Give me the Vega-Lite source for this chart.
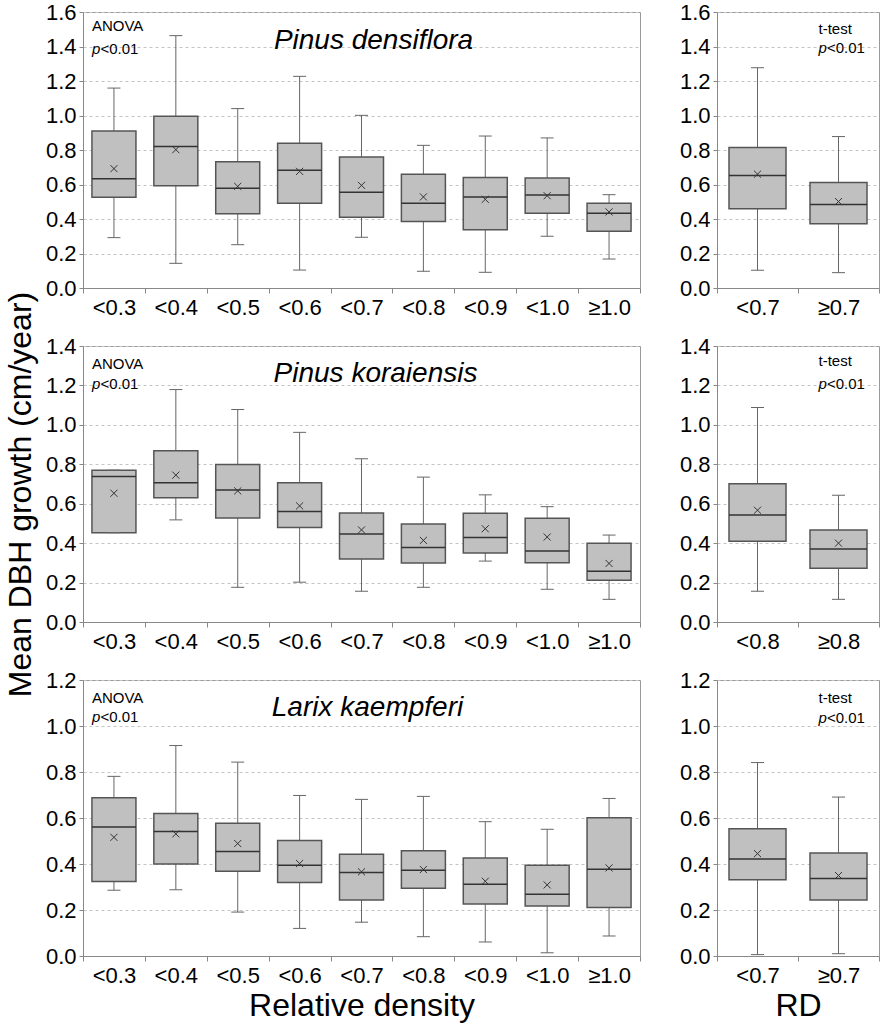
{
  "$schema": "https://vega.github.io/schema/vega-lite/v6.json",
  "background": "white",
  "padding": {"left": 3, "top": 0, "right": 2, "bottom": 2},
  "bounds": "flush",
  "datasets": {
    "pd": [
      {"g": "<0.3", "lo": 0.292, "q1": 0.526, "med": 0.634, "q3": 0.910, "hi": 1.159, "mean": 0.692},
      {"g": "<0.4", "lo": 0.143, "q1": 0.593, "med": 0.821, "q3": 0.995, "hi": 1.463, "mean": 0.802},
      {"g": "<0.5", "lo": 0.251, "q1": 0.431, "med": 0.578, "q3": 0.732, "hi": 1.040, "mean": 0.589},
      {"g": "<0.6", "lo": 0.104, "q1": 0.491, "med": 0.682, "q3": 0.839, "hi": 1.227, "mean": 0.676},
      {"g": "<0.7", "lo": 0.294, "q1": 0.410, "med": 0.555, "q3": 0.759, "hi": 1.001, "mean": 0.595},
      {"g": "<0.8", "lo": 0.097, "q1": 0.385, "med": 0.491, "q3": 0.659, "hi": 0.827, "mean": 0.528},
      {"g": "<0.9", "lo": 0.091, "q1": 0.338, "med": 0.528, "q3": 0.640, "hi": 0.881, "mean": 0.514},
      {"g": "<1.0", "lo": 0.300, "q1": 0.433, "med": 0.539, "q3": 0.638, "hi": 0.870, "mean": 0.535},
      {"g": "≥1.0", "lo": 0.168, "q1": 0.329, "med": 0.433, "q3": 0.491, "hi": 0.541, "mean": 0.441}
    ],
    "pdt": [
      {"g": "<0.7", "lo": 0.103, "q1": 0.460, "med": 0.652, "q3": 0.814, "hi": 1.277, "mean": 0.660},
      {"g": "≥0.7", "lo": 0.089, "q1": 0.373, "med": 0.484, "q3": 0.611, "hi": 0.878, "mean": 0.501}
    ],
    "pk": [
      {"g": "<0.3", "lo": 0.453, "q1": 0.453, "med": 0.738, "q3": 0.770, "hi": 0.770, "mean": 0.653},
      {"g": "<0.4", "lo": 0.518, "q1": 0.630, "med": 0.706, "q3": 0.869, "hi": 1.179, "mean": 0.745},
      {"g": "<0.5", "lo": 0.176, "q1": 0.528, "med": 0.670, "q3": 0.799, "hi": 1.078, "mean": 0.665},
      {"g": "<0.6", "lo": 0.202, "q1": 0.479, "med": 0.560, "q3": 0.706, "hi": 0.962, "mean": 0.589},
      {"g": "<0.7", "lo": 0.156, "q1": 0.319, "med": 0.446, "q3": 0.553, "hi": 0.828, "mean": 0.467},
      {"g": "<0.8", "lo": 0.176, "q1": 0.299, "med": 0.378, "q3": 0.497, "hi": 0.735, "mean": 0.414},
      {"g": "<0.9", "lo": 0.309, "q1": 0.350, "med": 0.428, "q3": 0.552, "hi": 0.645, "mean": 0.473},
      {"g": "<1.0", "lo": 0.166, "q1": 0.300, "med": 0.360, "q3": 0.526, "hi": 0.585, "mean": 0.431},
      {"g": "≥1.0", "lo": 0.115, "q1": 0.212, "med": 0.258, "q3": 0.400, "hi": 0.441, "mean": 0.297}
    ],
    "pkt": [
      {"g": "<0.8", "lo": 0.156, "q1": 0.409, "med": 0.543, "q3": 0.701, "hi": 1.088, "mean": 0.567},
      {"g": "≥0.8", "lo": 0.115, "q1": 0.273, "med": 0.370, "q3": 0.467, "hi": 0.643, "mean": 0.400}
    ],
    "lk": [
      {"g": "<0.3", "lo": 0.286, "q1": 0.324, "med": 0.561, "q3": 0.688, "hi": 0.781, "mean": 0.516},
      {"g": "<0.4", "lo": 0.288, "q1": 0.400, "med": 0.541, "q3": 0.620, "hi": 0.915, "mean": 0.531},
      {"g": "<0.5", "lo": 0.191, "q1": 0.369, "med": 0.454, "q3": 0.577, "hi": 0.843, "mean": 0.489},
      {"g": "<0.6", "lo": 0.120, "q1": 0.320, "med": 0.395, "q3": 0.502, "hi": 0.698, "mean": 0.402},
      {"g": "<0.7", "lo": 0.147, "q1": 0.244, "med": 0.363, "q3": 0.442, "hi": 0.681, "mean": 0.366},
      {"g": "<0.8", "lo": 0.084, "q1": 0.295, "med": 0.373, "q3": 0.458, "hi": 0.694, "mean": 0.376},
      {"g": "<0.9", "lo": 0.061, "q1": 0.226, "med": 0.312, "q3": 0.426, "hi": 0.584, "mean": 0.325},
      {"g": "<1.0", "lo": 0.014, "q1": 0.217, "med": 0.269, "q3": 0.395, "hi": 0.551, "mean": 0.309},
      {"g": "≥1.0", "lo": 0.087, "q1": 0.211, "med": 0.377, "q3": 0.601, "hi": 0.685, "mean": 0.383}
    ],
    "lkt": [
      {"g": "<0.7", "lo": 0.006, "q1": 0.331, "med": 0.422, "q3": 0.553, "hi": 0.841, "mean": 0.445},
      {"g": "≥0.7", "lo": 0.010, "q1": 0.243, "med": 0.337, "q3": 0.448, "hi": 0.691, "mean": 0.350}
    ]
  },
  "columns": 2,
  "spacing": {"row": 58, "column": 77},
  "concat": [
    {
      "width": 557, "height": 276,
      "data": {"name": "pd"},
      "encoding": {"x": {"field": "g", "type": "nominal", "sort": null, "scale": {"paddingInner": 0, "paddingOuter": 0}, "title": null}},
      "layer": [
        {"mark": {"type": "rule", "color": "#666"}, "encoding": {"y": {"field": "lo", "type": "quantitative", "scale": {"domain": [0, 1.6]}, "axis": {"values": [0, 0.2, 0.4, 0.6, 0.8, 1.0, 1.2, 1.4, 1.6], "tickCount": 9, "labelOverlap": false}, "title": null}, "y2": {"field": "hi"}}},
        {"mark": {"type": "bar", "size": 44, "fill": "#c0c0c0", "stroke": "#555", "strokeWidth": 1.5}, "encoding": {"y": {"field": "q1", "type": "quantitative", "title": null}, "y2": {"field": "q3"}}},
        {"mark": {"type": "tick", "size": 44, "thickness": 1.5, "color": "#333", "opacity": 1}, "encoding": {"y": {"field": "med", "type": "quantitative", "title": null}}},
        {"mark": {"type": "tick", "size": 13, "thickness": 1, "color": "#666", "opacity": 1}, "encoding": {"y": {"field": "lo", "type": "quantitative", "title": null}}},
        {"mark": {"type": "tick", "size": 13, "thickness": 1, "color": "#666", "opacity": 1}, "encoding": {"y": {"field": "hi", "type": "quantitative", "title": null}}},
        {"mark": {"type": "point", "shape": "M-1,-1L1,1M1,-1L-1,1", "size": 50, "filled": false, "stroke": "#333", "strokeWidth": 1, "opacity": 1}, "encoding": {"y": {"field": "mean", "type": "quantitative", "title": null}}},
        {"data": {"values": [{}]}, "mark": {"type": "text", "text": "Pinus densiflora", "fontStyle": "italic", "fontSize": 28, "align": "center", "baseline": "alphabetic", "dx": 12}, "encoding": {"x": {"datum": "<0.7", "type": "nominal"}, "y": {"datum": 1.385, "type": "quantitative"}}},
        {"data": {"values": [{}]}, "mark": {"type": "text", "text": "ANOVA", "align": "left", "baseline": "middle", "dx": -22, "fontSize": 15}, "encoding": {"x": {"datum": "<0.3", "type": "nominal"}, "y": {"datum": 1.519, "type": "quantitative"}}},
        {"data": {"values": [{}]}, "mark": {"type": "text", "text": "p", "fontStyle": "italic", "align": "left", "baseline": "middle", "dx": -22, "fontSize": 15}, "encoding": {"x": {"datum": "<0.3", "type": "nominal"}, "y": {"datum": 1.386, "type": "quantitative"}}},
        {"data": {"values": [{}]}, "mark": {"type": "text", "text": "<0.01", "align": "left", "baseline": "middle", "dx": -13.5, "fontSize": 15}, "encoding": {"x": {"datum": "<0.3", "type": "nominal"}, "y": {"datum": 1.386, "type": "quantitative"}}}
      ]
    },
    {
      "width": 162, "height": 276,
      "data": {"name": "pdt"},
      "encoding": {"x": {"field": "g", "type": "nominal", "sort": null, "scale": {"paddingInner": 0, "paddingOuter": 0}, "title": null}},
      "layer": [
        {"mark": {"type": "rule", "color": "#666"}, "encoding": {"y": {"field": "lo", "type": "quantitative", "scale": {"domain": [0, 1.6]}, "axis": {"values": [0, 0.2, 0.4, 0.6, 0.8, 1.0, 1.2, 1.4, 1.6], "tickCount": 9, "labelOverlap": false}, "title": null}, "y2": {"field": "hi"}}},
        {"mark": {"type": "bar", "size": 57, "fill": "#c0c0c0", "stroke": "#555", "strokeWidth": 1.5}, "encoding": {"y": {"field": "q1", "type": "quantitative", "title": null}, "y2": {"field": "q3"}}},
        {"mark": {"type": "tick", "size": 57, "thickness": 1.5, "color": "#333", "opacity": 1}, "encoding": {"y": {"field": "med", "type": "quantitative", "title": null}}},
        {"mark": {"type": "tick", "size": 13, "thickness": 1, "color": "#666", "opacity": 1}, "encoding": {"y": {"field": "lo", "type": "quantitative", "title": null}}},
        {"mark": {"type": "tick", "size": 13, "thickness": 1, "color": "#666", "opacity": 1}, "encoding": {"y": {"field": "hi", "type": "quantitative", "title": null}}},
        {"mark": {"type": "point", "shape": "M-1,-1L1,1M1,-1L-1,1", "size": 50, "filled": false, "stroke": "#333", "strokeWidth": 1, "opacity": 1}, "encoding": {"y": {"field": "mean", "type": "quantitative", "title": null}}},
        {"data": {"values": [{}]}, "mark": {"type": "text", "text": "t-test", "align": "left", "baseline": "middle", "dx": -20, "fontSize": 15}, "encoding": {"x": {"datum": "≥0.7", "type": "nominal"}, "y": {"datum": 1.503, "type": "quantitative"}}},
        {"data": {"values": [{}]}, "mark": {"type": "text", "text": "p", "fontStyle": "italic", "align": "left", "baseline": "middle", "dx": -20, "fontSize": 15}, "encoding": {"x": {"datum": "≥0.7", "type": "nominal"}, "y": {"datum": 1.393, "type": "quantitative"}}},
        {"data": {"values": [{}]}, "mark": {"type": "text", "text": "<0.01", "align": "left", "baseline": "middle", "dx": -11.5, "fontSize": 15}, "encoding": {"x": {"datum": "≥0.7", "type": "nominal"}, "y": {"datum": 1.393, "type": "quantitative"}}}
      ]
    },
    {
      "width": 557, "height": 276,
      "data": {"name": "pk"},
      "encoding": {"x": {"field": "g", "type": "nominal", "sort": null, "scale": {"paddingInner": 0, "paddingOuter": 0}, "title": null}},
      "layer": [
        {"mark": {"type": "rule", "color": "#666"}, "encoding": {"y": {"field": "lo", "type": "quantitative", "scale": {"domain": [0, 1.4]}, "axis": {"values": [0, 0.2, 0.4, 0.6, 0.8, 1.0, 1.2, 1.4], "tickCount": 8, "labelOverlap": false, "titleY": 148}, "title": "Mean DBH growth (cm/year)"}, "y2": {"field": "hi"}}},
        {"mark": {"type": "bar", "size": 44, "fill": "#c0c0c0", "stroke": "#555", "strokeWidth": 1.5}, "encoding": {"y": {"field": "q1", "type": "quantitative", "title": "Mean DBH growth (cm/year)"}, "y2": {"field": "q3"}}},
        {"mark": {"type": "tick", "size": 44, "thickness": 1.5, "color": "#333", "opacity": 1}, "encoding": {"y": {"field": "med", "type": "quantitative", "title": "Mean DBH growth (cm/year)"}}},
        {"mark": {"type": "tick", "size": 13, "thickness": 1, "color": "#666", "opacity": 1}, "encoding": {"y": {"field": "lo", "type": "quantitative", "title": "Mean DBH growth (cm/year)"}}},
        {"mark": {"type": "tick", "size": 13, "thickness": 1, "color": "#666", "opacity": 1}, "encoding": {"y": {"field": "hi", "type": "quantitative", "title": "Mean DBH growth (cm/year)"}}},
        {"mark": {"type": "point", "shape": "M-1,-1L1,1M1,-1L-1,1", "size": 50, "filled": false, "stroke": "#333", "strokeWidth": 1, "opacity": 1}, "encoding": {"y": {"field": "mean", "type": "quantitative", "title": "Mean DBH growth (cm/year)"}}},
        {"data": {"values": [{}]}, "mark": {"type": "text", "text": "Pinus koraiensis", "fontStyle": "italic", "fontSize": 28, "align": "center", "baseline": "alphabetic", "dx": 14}, "encoding": {"x": {"datum": "<0.7", "type": "nominal"}, "y": {"datum": 1.217, "type": "quantitative", "title": "Mean DBH growth (cm/year)"}}},
        {"data": {"values": [{}]}, "mark": {"type": "text", "text": "ANOVA", "align": "left", "baseline": "middle", "dx": -22, "fontSize": 15}, "encoding": {"x": {"datum": "<0.3", "type": "nominal"}, "y": {"datum": 1.31, "type": "quantitative", "title": "Mean DBH growth (cm/year)"}}},
        {"data": {"values": [{}]}, "mark": {"type": "text", "text": "p", "fontStyle": "italic", "align": "left", "baseline": "middle", "dx": -22, "fontSize": 15}, "encoding": {"x": {"datum": "<0.3", "type": "nominal"}, "y": {"datum": 1.208, "type": "quantitative", "title": "Mean DBH growth (cm/year)"}}},
        {"data": {"values": [{}]}, "mark": {"type": "text", "text": "<0.01", "align": "left", "baseline": "middle", "dx": -13.5, "fontSize": 15}, "encoding": {"x": {"datum": "<0.3", "type": "nominal"}, "y": {"datum": 1.208, "type": "quantitative", "title": "Mean DBH growth (cm/year)"}}}
      ]
    },
    {
      "width": 162, "height": 276,
      "data": {"name": "pkt"},
      "encoding": {"x": {"field": "g", "type": "nominal", "sort": null, "scale": {"paddingInner": 0, "paddingOuter": 0}, "title": null}},
      "layer": [
        {"mark": {"type": "rule", "color": "#666"}, "encoding": {"y": {"field": "lo", "type": "quantitative", "scale": {"domain": [0, 1.4]}, "axis": {"values": [0, 0.2, 0.4, 0.6, 0.8, 1.0, 1.2, 1.4], "tickCount": 8, "labelOverlap": false}, "title": null}, "y2": {"field": "hi"}}},
        {"mark": {"type": "bar", "size": 57, "fill": "#c0c0c0", "stroke": "#555", "strokeWidth": 1.5}, "encoding": {"y": {"field": "q1", "type": "quantitative", "title": null}, "y2": {"field": "q3"}}},
        {"mark": {"type": "tick", "size": 57, "thickness": 1.5, "color": "#333", "opacity": 1}, "encoding": {"y": {"field": "med", "type": "quantitative", "title": null}}},
        {"mark": {"type": "tick", "size": 13, "thickness": 1, "color": "#666", "opacity": 1}, "encoding": {"y": {"field": "lo", "type": "quantitative", "title": null}}},
        {"mark": {"type": "tick", "size": 13, "thickness": 1, "color": "#666", "opacity": 1}, "encoding": {"y": {"field": "hi", "type": "quantitative", "title": null}}},
        {"mark": {"type": "point", "shape": "M-1,-1L1,1M1,-1L-1,1", "size": 50, "filled": false, "stroke": "#333", "strokeWidth": 1, "opacity": 1}, "encoding": {"y": {"field": "mean", "type": "quantitative", "title": null}}},
        {"data": {"values": [{}]}, "mark": {"type": "text", "text": "t-test", "align": "left", "baseline": "middle", "dx": -20, "fontSize": 15}, "encoding": {"x": {"datum": "≥0.8", "type": "nominal"}, "y": {"datum": 1.322, "type": "quantitative"}}},
        {"data": {"values": [{}]}, "mark": {"type": "text", "text": "p", "fontStyle": "italic", "align": "left", "baseline": "middle", "dx": -20, "fontSize": 15}, "encoding": {"x": {"datum": "≥0.8", "type": "nominal"}, "y": {"datum": 1.205, "type": "quantitative"}}},
        {"data": {"values": [{}]}, "mark": {"type": "text", "text": "<0.01", "align": "left", "baseline": "middle", "dx": -11.5, "fontSize": 15}, "encoding": {"x": {"datum": "≥0.8", "type": "nominal"}, "y": {"datum": 1.205, "type": "quantitative"}}}
      ]
    },
    {
      "width": 557, "height": 276,
      "data": {"name": "lk"},
      "encoding": {"x": {"field": "g", "type": "nominal", "sort": null, "scale": {"paddingInner": 0, "paddingOuter": 0}, "title": "Relative density"}},
      "layer": [
        {"mark": {"type": "rule", "color": "#666"}, "encoding": {"y": {"field": "lo", "type": "quantitative", "scale": {"domain": [0, 1.2]}, "axis": {"values": [0, 0.2, 0.4, 0.6, 0.8, 1.0, 1.2], "tickCount": 7, "labelOverlap": false}, "title": null}, "y2": {"field": "hi"}}},
        {"mark": {"type": "bar", "size": 44, "fill": "#c0c0c0", "stroke": "#555", "strokeWidth": 1.5}, "encoding": {"y": {"field": "q1", "type": "quantitative", "title": null}, "y2": {"field": "q3"}}},
        {"mark": {"type": "tick", "size": 44, "thickness": 1.5, "color": "#333", "opacity": 1}, "encoding": {"y": {"field": "med", "type": "quantitative", "title": null}}},
        {"mark": {"type": "tick", "size": 13, "thickness": 1, "color": "#666", "opacity": 1}, "encoding": {"y": {"field": "lo", "type": "quantitative", "title": null}}},
        {"mark": {"type": "tick", "size": 13, "thickness": 1, "color": "#666", "opacity": 1}, "encoding": {"y": {"field": "hi", "type": "quantitative", "title": null}}},
        {"mark": {"type": "point", "shape": "M-1,-1L1,1M1,-1L-1,1", "size": 50, "filled": false, "stroke": "#333", "strokeWidth": 1, "opacity": 1}, "encoding": {"y": {"field": "mean", "type": "quantitative", "title": null}}},
        {"data": {"values": [{}]}, "mark": {"type": "text", "text": "Larix kaempferi", "fontStyle": "italic", "fontSize": 28, "align": "center", "baseline": "alphabetic", "dx": 6}, "encoding": {"x": {"datum": "<0.7", "type": "nominal", "title": "Relative density"}, "y": {"datum": 1.043, "type": "quantitative"}}},
        {"data": {"values": [{}]}, "mark": {"type": "text", "text": "ANOVA", "align": "left", "baseline": "middle", "dx": -22, "fontSize": 15}, "encoding": {"x": {"datum": "<0.3", "type": "nominal", "title": "Relative density"}, "y": {"datum": 1.122, "type": "quantitative"}}},
        {"data": {"values": [{}]}, "mark": {"type": "text", "text": "p", "fontStyle": "italic", "align": "left", "baseline": "middle", "dx": -22, "fontSize": 15}, "encoding": {"x": {"datum": "<0.3", "type": "nominal", "title": "Relative density"}, "y": {"datum": 1.039, "type": "quantitative"}}},
        {"data": {"values": [{}]}, "mark": {"type": "text", "text": "<0.01", "align": "left", "baseline": "middle", "dx": -13.5, "fontSize": 15}, "encoding": {"x": {"datum": "<0.3", "type": "nominal", "title": "Relative density"}, "y": {"datum": 1.039, "type": "quantitative"}}}
      ]
    },
    {
      "width": 162, "height": 276,
      "data": {"name": "lkt"},
      "encoding": {"x": {"field": "g", "type": "nominal", "sort": null, "scale": {"paddingInner": 0, "paddingOuter": 0}, "title": "RD"}},
      "layer": [
        {"mark": {"type": "rule", "color": "#666"}, "encoding": {"y": {"field": "lo", "type": "quantitative", "scale": {"domain": [0, 1.2]}, "axis": {"values": [0, 0.2, 0.4, 0.6, 0.8, 1.0, 1.2], "tickCount": 7, "labelOverlap": false}, "title": null}, "y2": {"field": "hi"}}},
        {"mark": {"type": "bar", "size": 57, "fill": "#c0c0c0", "stroke": "#555", "strokeWidth": 1.5}, "encoding": {"y": {"field": "q1", "type": "quantitative", "title": null}, "y2": {"field": "q3"}}},
        {"mark": {"type": "tick", "size": 57, "thickness": 1.5, "color": "#333", "opacity": 1}, "encoding": {"y": {"field": "med", "type": "quantitative", "title": null}}},
        {"mark": {"type": "tick", "size": 13, "thickness": 1, "color": "#666", "opacity": 1}, "encoding": {"y": {"field": "lo", "type": "quantitative", "title": null}}},
        {"mark": {"type": "tick", "size": 13, "thickness": 1, "color": "#666", "opacity": 1}, "encoding": {"y": {"field": "hi", "type": "quantitative", "title": null}}},
        {"mark": {"type": "point", "shape": "M-1,-1L1,1M1,-1L-1,1", "size": 50, "filled": false, "stroke": "#333", "strokeWidth": 1, "opacity": 1}, "encoding": {"y": {"field": "mean", "type": "quantitative", "title": null}}},
        {"data": {"values": [{}]}, "mark": {"type": "text", "text": "t-test", "align": "left", "baseline": "middle", "dx": -20, "fontSize": 15}, "encoding": {"x": {"datum": "≥0.7", "type": "nominal", "title": "RD"}, "y": {"datum": 1.12, "type": "quantitative"}}},
        {"data": {"values": [{}]}, "mark": {"type": "text", "text": "p", "fontStyle": "italic", "align": "left", "baseline": "middle", "dx": -20, "fontSize": 15}, "encoding": {"x": {"datum": "≥0.7", "type": "nominal", "title": "RD"}, "y": {"datum": 1.033, "type": "quantitative"}}},
        {"data": {"values": [{}]}, "mark": {"type": "text", "text": "<0.01", "align": "left", "baseline": "middle", "dx": -11.5, "fontSize": 15}, "encoding": {"x": {"datum": "≥0.7", "type": "nominal", "title": "RD"}, "y": {"datum": 1.033, "type": "quantitative"}}}
      ]
    }
  ],
  "config": {
    "font": "Liberation Sans",
    "view": {"stroke": "#999", "strokeWidth": 1},
    "title": {"color": "#000", "font": "Liberation Sans"},
    "text": {"font": "Liberation Sans", "color": "#000"},
    "axis": {
      "labelFont": "Liberation Sans", "labelFontSize": 22, "labelColor": "#000", "labelOverlap": false,
      "titleFont": "Liberation Sans", "titleFontSize": 32, "titleFontWeight": "normal", "titleColor": "#000",
      "domainColor": "#888", "tickColor": "#888",
      "gridColor": "#c4c4c4", "gridDash": [3, 3], "gridWidth": 1
    },
    "axisX": {"grid": false, "tickBand": "extent", "labelAngle": 0, "tickSize": 5, "labelPadding": 4, "titlePadding": 4},
    "axisY": {"grid": true, "tickSize": 4, "labelPadding": 3, "titlePadding": 8, "format": ".1f"}
  }
}
